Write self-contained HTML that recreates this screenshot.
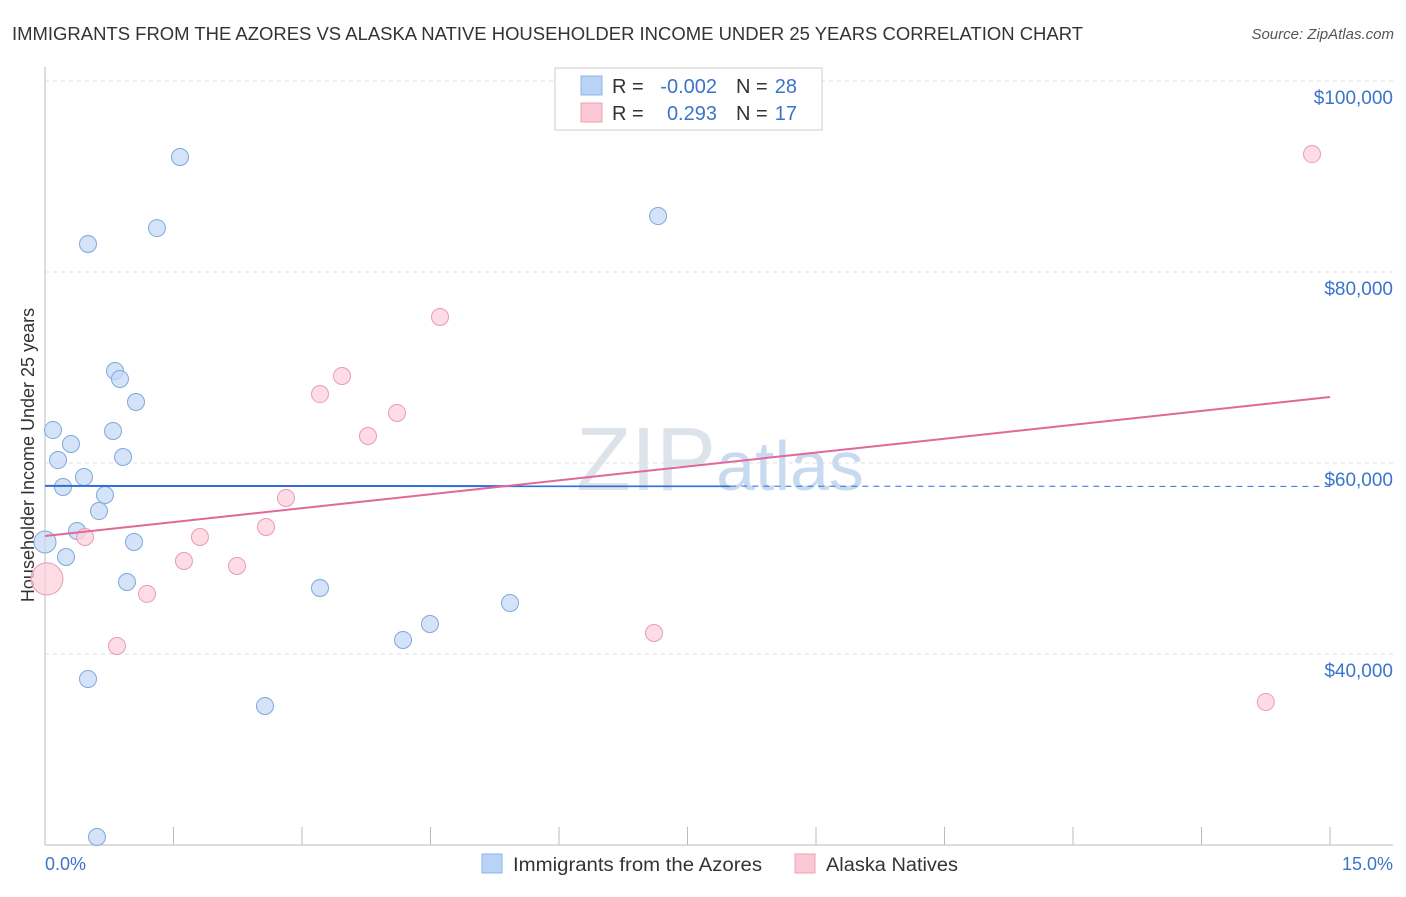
<!DOCTYPE html>
<html><head><meta charset="utf-8"><style>
body{margin:0;background:#fff;font-family:"Liberation Sans",sans-serif;}
svg text{font-family:"Liberation Sans",sans-serif;}
</style></head><body>
<svg id="c" width="1406" height="892">
<text x="12" y="40" font-size="18" fill="#333" textLength="1071" lengthAdjust="spacingAndGlyphs">IMMIGRANTS FROM THE AZORES VS ALASKA NATIVE HOUSEHOLDER INCOME UNDER 25 YEARS CORRELATION CHART</text>
<text x="1394" y="39" font-size="15" fill="#555" font-style="italic" text-anchor="end">Source: ZipAtlas.com</text>
<text x="720" y="490" font-size="90" fill="#dde3ea" text-anchor="middle" font-family="Liberation Serif">ZIP<tspan fill="#c8daf0" font-family="Liberation Sans" font-size="70">atlas</tspan></text>
<text transform="translate(34,455) rotate(-90)" font-size="18" fill="#333" text-anchor="middle">Householder Income Under 25 years</text>
<g id="grid"></g><g id="marks"></g>
<g>
<rect x="555" y="68" width="267" height="62" fill="#fff" stroke="#ccc"/>
<rect x="581" y="76" width="21" height="19" fill="#b8d3f5" stroke="#8fb5e8"/>
<text x="612" y="93" font-size="20" fill="#333">R = </text><text x="717" y="93" font-size="20" fill="#3a74cc" text-anchor="end">-0.002</text>
<text x="736" y="93" font-size="20" fill="#333">N = </text><text x="797" y="93" font-size="20" fill="#3a74cc" text-anchor="end">28</text>
<rect x="581" y="103" width="21" height="19" fill="#fbc8d6" stroke="#f0a0b8"/>
<text x="612" y="120" font-size="20" fill="#333">R = </text><text x="717" y="120" font-size="20" fill="#3a74cc" text-anchor="end">0.293</text>
<text x="736" y="120" font-size="20" fill="#333">N = </text><text x="797" y="120" font-size="20" fill="#3a74cc" text-anchor="end">17</text>
</g>
<g>
<rect x="482" y="854" width="20" height="19" fill="#b8d3f5" stroke="#8fb5e8"/>
<text x="513" y="871" font-size="19" fill="#333" textLength="249" lengthAdjust="spacingAndGlyphs">Immigrants from the Azores</text>
<rect x="795" y="854" width="20" height="19" fill="#fbc8d6" stroke="#f0a0b8"/>
<text x="826" y="871" font-size="19" fill="#333" textLength="132" lengthAdjust="spacingAndGlyphs">Alaska Natives</text>
</g>
<text x="45" y="870" font-size="18" fill="#3a74cc">0.0%</text>
<text x="1393" y="870" font-size="18" fill="#3a74cc" text-anchor="end">15.0%</text>
</svg>
<script>
const yTicks=[40000,60000,80000,100000];
const yTickLabels=["$40,000","$60,000","$80,000","$100,000"];
const blueX=[1.576,1.307,0.502,7.156,0.817,0.875,1.062,0.093,0.794,0.303,0.152,0.911,0.455,0.210,0.700,0.630,0.374,0,1.039,0.245,0.957,3.210,5.428,4.494,4.179,0.502,2.568,0.607];
const blueY=[92040,84600,82930,85860,69630,68800,66390,63450,63350,61990,60310,60630,58530,57490,56650,54970,52880,51730,51730,50160,47540,46910,45340,43140,41470,37380,34560,20840];
const pinkX=[14.79,4.611,3.467,3.210,4.109,3.770,2.813,2.580,0.467,1.809,1.622,2.241,0.023,1.191,0.840,7.109,14.25];
const pinkY=[92350,75290,69110,67220,65240,62830,56340,53300,52250,52250,49740,49220,47860,46290,40840,42200,34980];
const blueTrend=[57600,57550];
const pinkTrend=[52360,66910];
const NS="http://www.w3.org/2000/svg";
const xs=v=>45+v/15*1285;
const ys=v=>463-(v-60000)*191/20000;
function mk(p,t,a){const e=document.createElementNS(NS,t);for(const k in a)e.setAttribute(k,a[k]);p.appendChild(e);return e;}
const g=document.getElementById('grid'),m=document.getElementById('marks');
let ax=mk(g,'line',{x1:45,y1:67,x2:45,y2:845,stroke:'#bbb'});


let bx=mk(g,'line',{x1:45,y1:845,x2:1393,y2:845,stroke:'#bbb'});


for(let i=1;i<=10;i++){const x=45+i*128.5;let t=mk(g,'line',{x1:x,y1:827,x2:x,y2:845,stroke:'#bbb'});

}
yTicks.forEach((v,i)=>{const y=ys(v);
let l=mk(g,'line',{x1:45,y1:y,x2:1393,y2:y,stroke:'#ddd','stroke-dasharray':'4,4'});


let t=mk(g,'text',{x:1393,y:y+23,'font-size':19,fill:'#3a74cc','text-anchor':'end'});t.textContent=yTickLabels[i];

});
function pts(X,Y,fill,stroke,name,bigIdx){X.forEach((x,i)=>{const c=mk(m,'circle',{cx:xs(x),cy:ys(Y[i]),r:i===bigIdx?(name==='pink-point'?16:11):8.5,fill:fill,stroke:stroke,'stroke-width':1,'fill-opacity':0.75});

});}
pts(blueX,blueY,'#c5daf5','#7fa8dd','blue-point',17);
pts(pinkX,pinkY,'#fcd0dc','#eb9ab4','pink-point',12);
const cut=8.0;
let b1=mk(m,'line',{x1:xs(0),y1:ys(blueTrend[0]),x2:xs(cut),y2:ys(blueTrend[0]+(blueTrend[1]-blueTrend[0])*cut/15),stroke:'#2f6fd6','stroke-width':2});


let b2=mk(m,'line',{x1:xs(cut),y1:ys(blueTrend[0]+(blueTrend[1]-blueTrend[0])*cut/15),x2:xs(15),y2:ys(blueTrend[1]),stroke:'#2f6fd6','stroke-width':1,'stroke-dasharray':'6,5'});


let p1=mk(m,'line',{x1:xs(0),y1:ys(pinkTrend[0]),x2:xs(15),y2:ys(pinkTrend[1]),stroke:'#e2679a','stroke-width':2});


</script>
</body></html>
